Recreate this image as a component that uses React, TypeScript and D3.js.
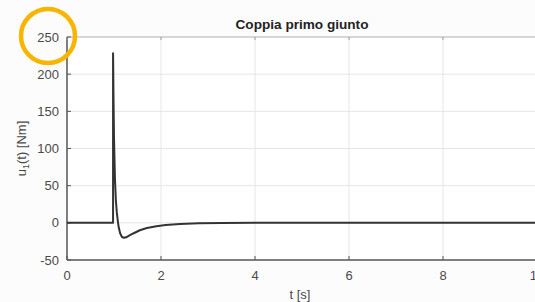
import React from 'react';
import * as d3 from 'd3';

// time [s] and torque u1 [Nm]
const tData = [0, 0.98, 0.98, 0.99, 1.0, 1.02, 1.04, 1.06, 1.08, 1.1, 1.13, 1.17, 1.21, 1.26, 1.33, 1.42, 1.55, 1.7, 1.9, 2.1, 2.4, 2.8, 3.3, 4, 10];
const uData = [0, 0, 228, 165, 115, 60, 30, 14, 3, -6, -14, -19, -20, -19.5, -17, -14, -10, -7, -4.5, -3, -1.5, -0.6, -0.2, 0, 0];
const xTicks = [0, 2, 4, 6, 8, 10];
const yTicks = [-50, 0, 50, 100, 150, 200, 250];

const W = 535;
const H = 302;
const m = { left: 67, right: 537, top: 37, bottom: 260 };

const App: React.FC = () => {
  const x = d3.scaleLinear().domain([0, 10]).range([m.left, m.right]);
  const y = d3.scaleLinear().domain([-50, 250]).range([m.bottom, m.top]);
  const pts = tData.map((t, i) => [t, uData[i]] as [number, number]);
  const line = d3.line<[number, number]>().x(d => x(d[0])).y(d => y(d[1]));
  const font = '"Liberation Sans", Arial, sans-serif';

  return (
    <svg width={W} height={H} style={{ position: 'absolute', left: 0, top: 0, background: '#fdfcfd' }}>
      <rect x={0} y={0} width={W} height={H} fill="#fdfcfd" />
      <rect x={m.left} y={m.top} width={m.right - m.left} height={m.bottom - m.top} fill="#ffffff" />
      {/* grid */}
      {xTicks.slice(1).map(t => (
        <line key={'gx' + t} x1={x(t)} x2={x(t)} y1={m.top} y2={m.bottom} stroke="#e6e6e6" strokeWidth={1} />
      ))}
      {yTicks.slice(1).map(t => (
        <line key={'gy' + t} x1={m.left} x2={m.right} y1={y(t)} y2={y(t)} stroke="#e6e6e6" strokeWidth={1} />
      ))}
      {/* box */}
      <line x1={m.left} x2={m.right} y1={m.top} y2={m.top} stroke="#bbbbbb" strokeWidth={1} />
      <line x1={m.left} x2={m.left} y1={m.top} y2={m.bottom} stroke="#555" strokeWidth={1.5} />
      <line x1={m.left} x2={m.right} y1={m.bottom} y2={m.bottom} stroke="#555" strokeWidth={1.5} />
      {/* ticks */}
      {xTicks.map(t => (
        <g key={'tx' + t}>
          <line x1={x(t)} x2={x(t)} y1={m.bottom} y2={m.bottom - 4} stroke="#555" />
          <line x1={x(t)} x2={x(t)} y1={m.top} y2={m.top + 3} stroke="#999" />
          <text x={x(t)} y={m.bottom + 20} textAnchor="middle" fontSize={13} fill="#4a4a4a" fontFamily={font}>{t}</text>
        </g>
      ))}
      {yTicks.map(t => (
        <g key={'ty' + t}>
          <line x1={m.left} x2={m.left + 4} y1={y(t)} y2={y(t)} stroke="#555" />
          <text x={m.left - 8} y={y(t) + 4.5} textAnchor="end" fontSize={13} fill="#4a4a4a" fontFamily={font}>{t}</text>
        </g>
      ))}
      {/* data */}
      <path d={line(pts) || ''} fill="none" stroke="#333" strokeWidth={2} strokeLinejoin="round" />
      {/* labels */}
      <text x={302} y={29} textAnchor="middle" fontSize={13.6} fontWeight="bold" fill="#222" fontFamily={font}>Coppia primo giunto</text>
      <text x={300} y={299} textAnchor="middle" fontSize={13} fill="#4a4a4a" fontFamily={font}>t [s]</text>
      <text transform={`translate(26,${(m.top + m.bottom) / 2}) rotate(-90)`} textAnchor="middle" fontSize={13} fill="#4a4a4a" fontFamily={font}>
        u<tspan fontSize={9} dy={3}>1</tspan><tspan dy={-3}>(t) [Nm]</tspan>
      </text>
      {/* highlight circle */}
      <circle cx={48} cy={36} r={27} fill="none" stroke="#f7b500" strokeWidth={4.5} />
    </svg>
  );
};

export default App;
